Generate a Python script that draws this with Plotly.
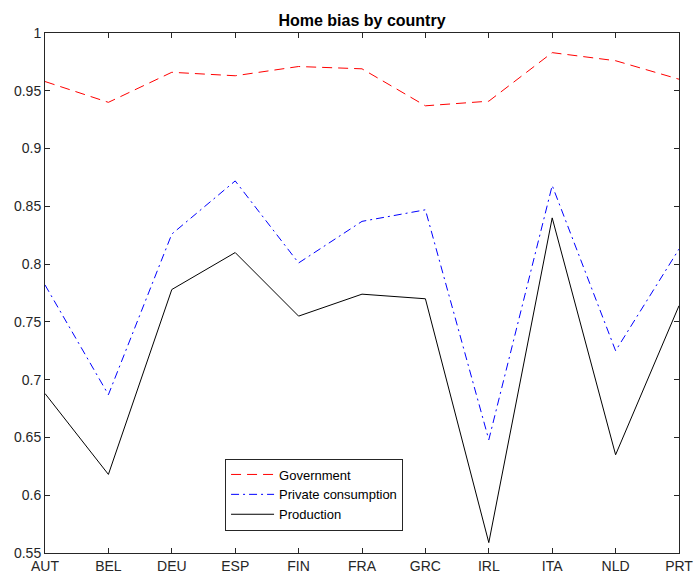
import plotly.graph_objects as go

countries = ["AUT", "BEL", "DEU", "ESP", "FIN", "FRA", "GRC", "IRL", "ITA", "NLD", "PRT"]
government = [0.958, 0.940, 0.966, 0.963, 0.971, 0.969, 0.937, 0.941, 0.983, 0.976, 0.960]
private_consumption = [0.782, 0.687, 0.826, 0.872, 0.801, 0.837, 0.847, 0.648, 0.868, 0.725, 0.813]
production = [0.688, 0.618, 0.778, 0.810, 0.755, 0.774, 0.770, 0.559, 0.840, 0.635, 0.764]

yticks = [0.55, 0.6, 0.65, 0.7, 0.75, 0.8, 0.85, 0.9, 0.95, 1.0]
ytick_labels = ["0.55", "0.6", "0.65", "0.7", "0.75", "0.8", "0.85", "0.9", "0.95", "1"]

FONT = "Liberation Sans, Arial, Helvetica, sans-serif"
AX = "#262626"

fig = go.Figure()
fig.add_trace(go.Scatter(x=countries, y=government, mode="lines", name="Government",
                         line=dict(color="#FF0000", width=1, dash="10px,6px")))
fig.add_trace(go.Scatter(x=countries, y=private_consumption, mode="lines", name="Private consumption",
                         line=dict(color="#0000FF", width=1, dash="8px,4px,2px,4px")))
fig.add_trace(go.Scatter(x=countries, y=production, mode="lines", name="Production",
                         line=dict(color="#000000", width=1)))

fig.update_layout(
    width=695, height=578,
    margin=dict(l=45, r=16, t=33, b=25, autoexpand=False),
    paper_bgcolor="white", plot_bgcolor="white",
    font=dict(family=FONT, size=14, color=AX),
    title=dict(text="<b>Home bias by country</b>", x=0.5, xref="paper", xanchor="center",
               y=1 - 20 / 578, yref="container", yanchor="middle",
               font=dict(family=FONT, size=16, color="#000000")),
    showlegend=True,
    legend=dict(x=0.284, y=0.1125, xanchor="left", yanchor="middle",
                bgcolor="white", bordercolor=AX, borderwidth=1,
                font=dict(family=FONT, size=13, color="#000000"),
                tracegroupgap=0, itemwidth=43),
)
fig.update_xaxes(type="category", range=[0, 10], showgrid=False, zeroline=False, automargin=False,
                 showline=True, linecolor=AX, linewidth=1, mirror="ticks",
                 ticks="inside", ticklen=5, tickcolor=AX,
                 tickfont=dict(family=FONT, size=14, color=AX))
fig.update_yaxes(range=[0.55, 1], tickvals=yticks, ticktext=ytick_labels,
                 showgrid=False, zeroline=False, automargin=False,
                 showline=True, linecolor=AX, linewidth=1, mirror="ticks",
                 ticks="inside", ticklen=5, tickcolor=AX,
                 tickfont=dict(family=FONT, size=14, color=AX))

fig.write_html("out.html", config={"displayModeBar": False},
               post_script="document.body.style.margin='0';document.body.style.overflow='hidden';")
